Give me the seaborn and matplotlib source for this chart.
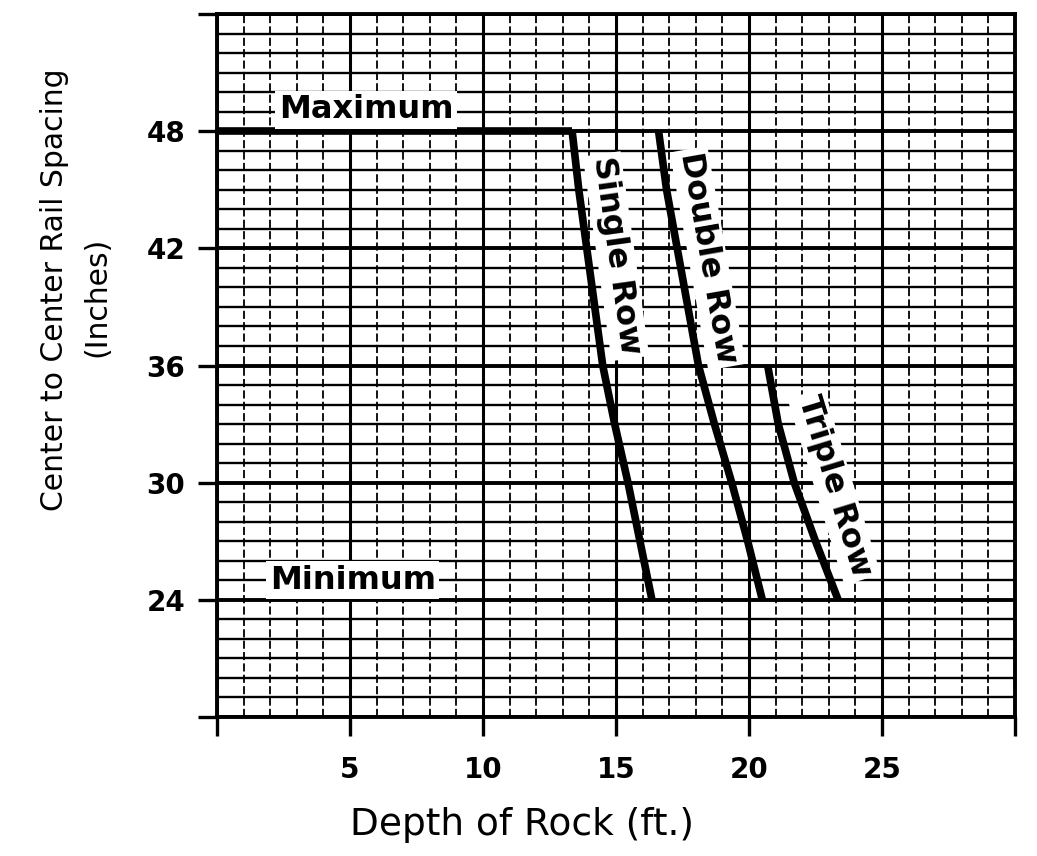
import numpy as np
import pandas as pd
import matplotlib
matplotlib.use("Agg")
import matplotlib.pyplot as plt
import seaborn as sns

# ---- data ----
single_x = [13.35, 13.6, 13.9, 14.2, 14.5, 14.95, 15.45, 15.9, 16.35]
single_y = [48, 45, 42, 39, 36, 33, 30, 27, 24]
double_x = [16.6, 16.9, 17.3, 17.7, 18.1, 18.7, 19.35, 19.95, 20.5]
double_y = [48, 45, 42, 39, 36, 33, 30, 27, 24]
triple_x = [20.7, 21.1, 21.7, 22.5, 23.35]
triple_y = [36, 33, 30, 27, 24]
maximum_x = [0, 13.35]
maximum_y = [48, 48]

x_ticks = [0, 5, 10, 15, 20, 25, 30]
x_labels = ["", "5", "10", "15", "20", "25", ""]
y_ticks = [18, 24, 30, 36, 42, 48, 54]
y_labels = ["", "24", "30", "36", "42", "48", ""]

sns.set_style("white")
plt.rcParams['font.family'] = ['DejaVu Sans']
plt.rcParams['text.color'] = 'black'
plt.rcParams['xtick.color'] = 'black'
plt.rcParams['ytick.color'] = 'black'

fig = plt.figure(figsize=(10.37, 8.56), dpi=100)
ax = fig.add_axes([0.2093, 0.1624, 0.9788 - 0.2093, 0.9836 - 0.1624])

ax.set_xlim(0, 30)
ax.set_ylim(18, 54)

# grid
ax.set_xticks(x_ticks)
ax.set_xticklabels(x_labels)
ax.set_yticks(y_ticks)
ax.set_yticklabels(y_labels)
ax.set_xticks(np.arange(0, 31, 1), minor=True)
ax.set_yticks(np.arange(18, 55, 1), minor=True)
ax.xaxis.grid(True, which='major', color='black', lw=2.2, linestyle='-')
ax.yaxis.grid(True, which='major', color='black', lw=2.8, linestyle='-')
ax.xaxis.grid(True, which='minor', color='black', lw=1.3, linestyle=(0, (4.5, 1.8)))
ax.yaxis.grid(True, which='minor', color='black', lw=1.7, linestyle='-')
ax.set_axisbelow(True)

for s in ax.spines.values():
    s.set_color('black')
    s.set_linewidth(2.8)

ax.tick_params(axis='both', which='major', direction='out', length=14, width=2.4,
               color='black', labelcolor='black', labelsize=20, left=True, bottom=True)
ax.tick_params(axis='both', which='minor', length=0)
for lbl in ax.get_xticklabels() + ax.get_yticklabels():
    lbl.set_fontweight('bold')
ax.tick_params(axis='y', pad=9)
ax.tick_params(axis='x', pad=14)

# curves
curves = pd.DataFrame({
    'x': single_x + double_x + triple_x + maximum_x,
    'y': single_y + double_y + triple_y + maximum_y,
    'series': ['Single'] * len(single_x) + ['Double'] * len(double_x)
              + ['Triple'] * len(triple_x) + ['Maximum'] * len(maximum_x),
})
sns.lineplot(data=curves, x='x', y='y', units='series', estimator=None,
             sort=False, color='black', lw=5.5, ax=ax, legend=False,
             solid_capstyle='butt', solid_joinstyle='round')

ax.set_xlabel('')
ax.set_ylabel('')

box = dict(facecolor='white', edgecolor='none', pad=2.5)
fs = 23
ax.text(5.6, 49.1, 'Maximum', fontsize=fs, fontweight='bold', ha='center', va='center', bbox=box)
ax.text(5.1, 25.0, 'Minimum', fontsize=fs, fontweight='bold', ha='center', va='center', bbox=box)
ax.text(15.0, 41.6, 'Single Row', fontsize=fs, fontweight='bold', ha='center', va='center',
        rotation=-82, rotation_mode='anchor', bbox=box)
ax.text(18.45, 41.5, 'Double Row', fontsize=fs, fontweight='bold', ha='center', va='center',
        rotation=-80, rotation_mode='anchor', bbox=box)
ax.text(23.2, 29.8, 'Triple Row', fontsize=fs, fontweight='bold', ha='center', va='center',
        rotation=-73, rotation_mode='anchor', bbox=box)

fig.text(522 / 1037, 1 - 825 / 856, 'Depth of Rock (ft.)', fontsize=27, ha='center', va='center')
fig.text(55 / 1037, 1 - 290 / 856, 'Center to Center Rail Spacing', fontsize=21.5,
         ha='center', va='center', rotation=90)
fig.text(97 / 1037, 1 - 297 / 856, '(Inches)', fontsize=21.5, ha='center', va='center', rotation=90)

fig.savefig('out.png', dpi=100, facecolor='white')
